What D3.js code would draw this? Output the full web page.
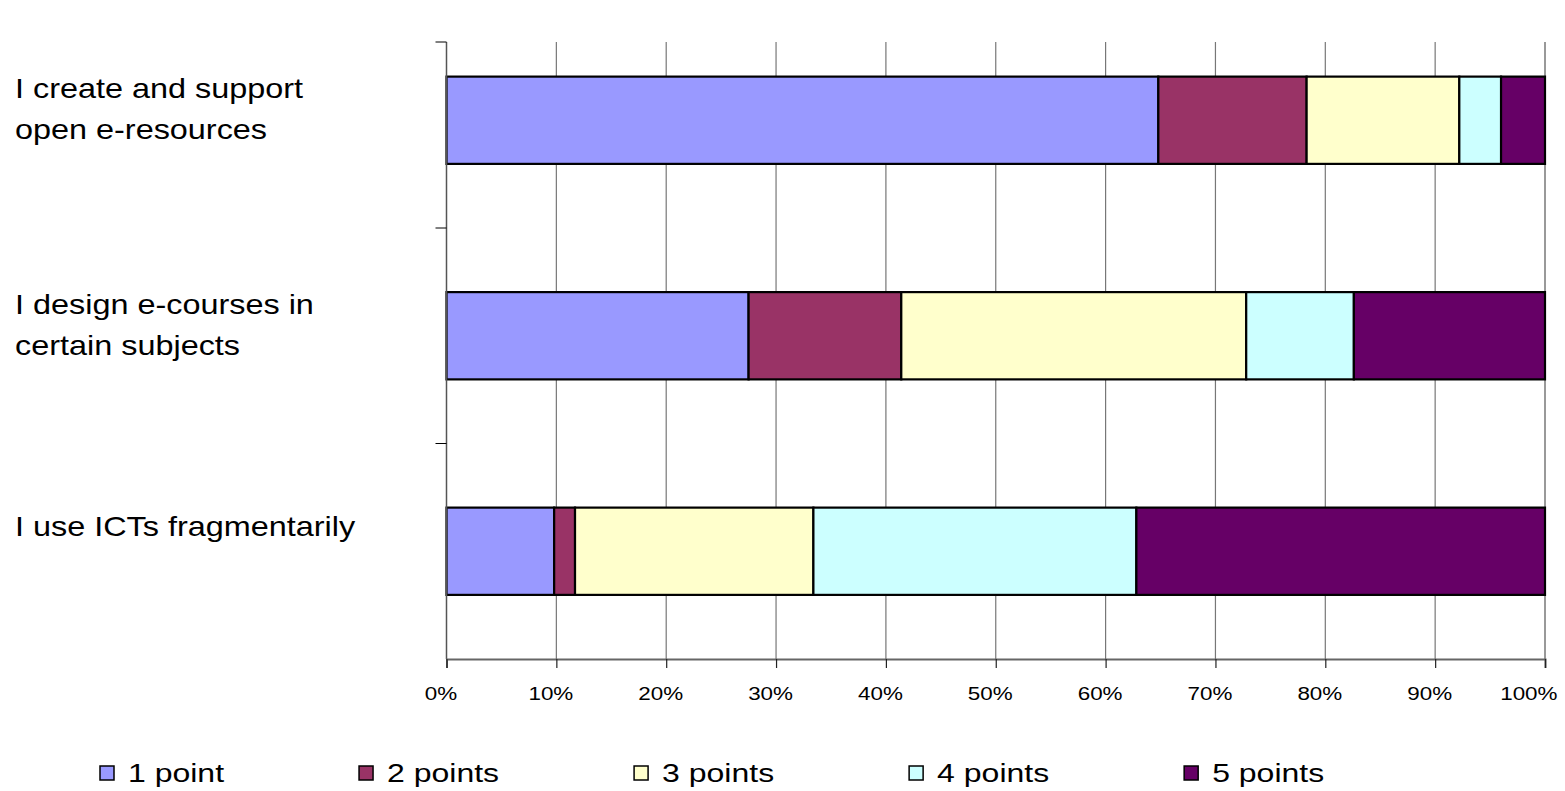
<!DOCTYPE html>
<html>
<head>
<meta charset="utf-8">
<script src="https://cdn.jsdelivr.net/npm/d3@7"></script>
<style>
  body { margin: 0; background: #fff; }
  text { font-family: "Liberation Sans", Arial, sans-serif; fill: #000; }
</style>
</head>
<body>
<div id="chart"></div>
<script>
const categories = ["I create and support open e-resources", "I design e-courses in certain subjects", "I use ICTs fragmentarily"];
const categoryLines = [["I create and support", "open e-resources"], ["I design e-courses in", "certain subjects"], ["I use ICTs fragmentarily"]];
const seriesNames = ["1 point", "2 points", "3 points", "4 points", "5 points"];
const onePoint = [64.8, 27.5, 9.8];
const twoPoints = [13.5, 13.9, 1.9];
const threePoints = [13.9, 31.4, 21.7];
const fourPoints = [3.8, 9.8, 29.4];
const fivePoints = [4.0, 17.4, 37.2];
const xTicks = [0, 0.1, 0.2, 0.3, 0.4, 0.5, 0.6, 0.7, 0.8, 0.9, 1];

(function () {
  const width = 1565;
  const height = 791;
  // the original text is drawn a little wide
  const LABEL_STRETCH = 1.2;
  const TICK_STRETCH = 1.18;
  const LEGEND_STRETCH = 1.28;
  const colors = ["#9999FF", "#993366", "#FFFFCC", "#CCFFFF", "#660066"];

  const seriesValues = [onePoint, twoPoints, threePoints, fourPoints, fivePoints];
  const rows = categories.map((c, i) => {
    const row = { category: c };
    seriesNames.forEach((s, j) => (row[s] = seriesValues[j][i]));
    return row;
  });

  const stacked = d3.stack().keys(seriesNames).offset(d3.stackOffsetExpand)(rows);

  const svg = d3.select("#chart").append("svg").attr("width", width).attr("height", height);

  const plot = { left: 446.5, right: 1545, top: 42, bottom: 659 };

  const x = d3.scaleLinear().domain([0, 1]).range([plot.left, plot.right]);
  const y = d3.scaleBand().domain(categories).range([plot.bottom - 3 * 215.5, plot.bottom]).paddingInner(0.595).paddingOuter(0.2975);
  const yEdges = d3.scaleBand().domain(categories).range([plot.bottom - 3 * 215.5, plot.bottom]);

  // gridlines
  svg.append("g")
    .selectAll("line")
    .data(xTicks.slice(1))
    .join("line")
    .attr("x1", d => x(d))
    .attr("x2", d => x(d))
    .attr("y1", plot.top)
    .attr("y2", plot.bottom)
    .attr("stroke", d => (d === 1 ? "#999" : "#777"))
    .attr("stroke-width", d => (d === 1 ? 2 : 1.2));

  // bars
  const layers = svg.append("g")
    .selectAll("g")
    .data(stacked)
    .join("g")
    .attr("fill", (d, i) => colors[i]);

  layers.selectAll("rect")
    .data(d => d)
    .join("rect")
    .attr("x", d => x(d[0]))
    .attr("y", d => y(d.data.category))
    .attr("width", d => x(d[1]) - x(d[0]))
    .attr("height", y.bandwidth())
    .attr("stroke", "#000")
    .attr("stroke-width", 2.2);

  // left axis
  const leftAxis = svg.append("g");
  leftAxis.append("line")
    .attr("x1", plot.left).attr("x2", plot.left)
    .attr("y1", plot.top).attr("y2", plot.bottom)
    .attr("stroke", "#555").attr("stroke-width", 1.5);
  leftAxis.selectAll(".ytick")
    .data([plot.top].concat(categories.slice(1).map(c => yEdges(c))))
    .join("line")
    .attr("class", "ytick")
    .attr("x1", plot.left - 11).attr("x2", plot.left)
    .attr("y1", d => d).attr("y2", d => d)
    .attr("stroke", "#000").attr("stroke-width", 1);

  // bottom axis
  const xAxis = svg.append("g")
    .attr("transform", `translate(0, ${plot.bottom})`)
    .call(d3.axisBottom(x).tickValues(xTicks).tickFormat(d3.format(".0%")).tickSize(9).tickPadding(19));
  xAxis.select(".domain").attr("stroke", "#666").attr("stroke-width", 2);
  xAxis.selectAll(".tick line").attr("stroke", "#222").attr("stroke-width", 1.2);
  xAxis.selectAll(".tick text")
    .attr("font-size", 19)
    .attr("font-family", "'Liberation Sans', Arial, sans-serif")
    .attr("fill", "#000")
    .attr("text-anchor", d => (d === 1 ? "end" : "middle"))
    .attr("x", d => (d === 1 ? 12 / TICK_STRETCH : -6 / TICK_STRETCH))
    .attr("transform", `scale(${TICK_STRETCH},1)`);

  // category labels
  const labels = svg.append("g")
    .selectAll("g")
    .data(categories)
    .join("g");
  labels.each(function (c, i) {
    const lines = categoryLines[i];
    const center = y(c) + y.bandwidth() / 2;
    const first = lines.length === 1 ? center - 15 : center - 22;
    d3.select(this)
      .selectAll("text")
      .data(lines)
      .join("text")
      .attr("transform", (d, k) => `translate(15, ${first + k * 41}) scale(${LABEL_STRETCH},1)`)
      .attr("font-size", 27)
      .text(d => d);
  });

  // legend
  const legend = svg.append("g").attr("transform", "translate(100, 766)");
  let cursor = 0;
  seriesNames.forEach((s, i) => {
    const item = legend.append("g").attr("transform", `translate(${cursor}, 0)`);
    item.append("rect")
      .attr("width", 14).attr("height", 14)
      .attr("fill", colors[i])
      .attr("stroke", "#000").attr("stroke-width", 1.5);
    const t = item.append("text")
      .attr("transform", `translate(28, 16) scale(${LEGEND_STRETCH},1)`)
      .attr("font-size", 25)
      .text(s);
    cursor += 28 + t.node().getComputedTextLength() * LEGEND_STRETCH + 135;
  });
})();
</script>
</body>
</html>
